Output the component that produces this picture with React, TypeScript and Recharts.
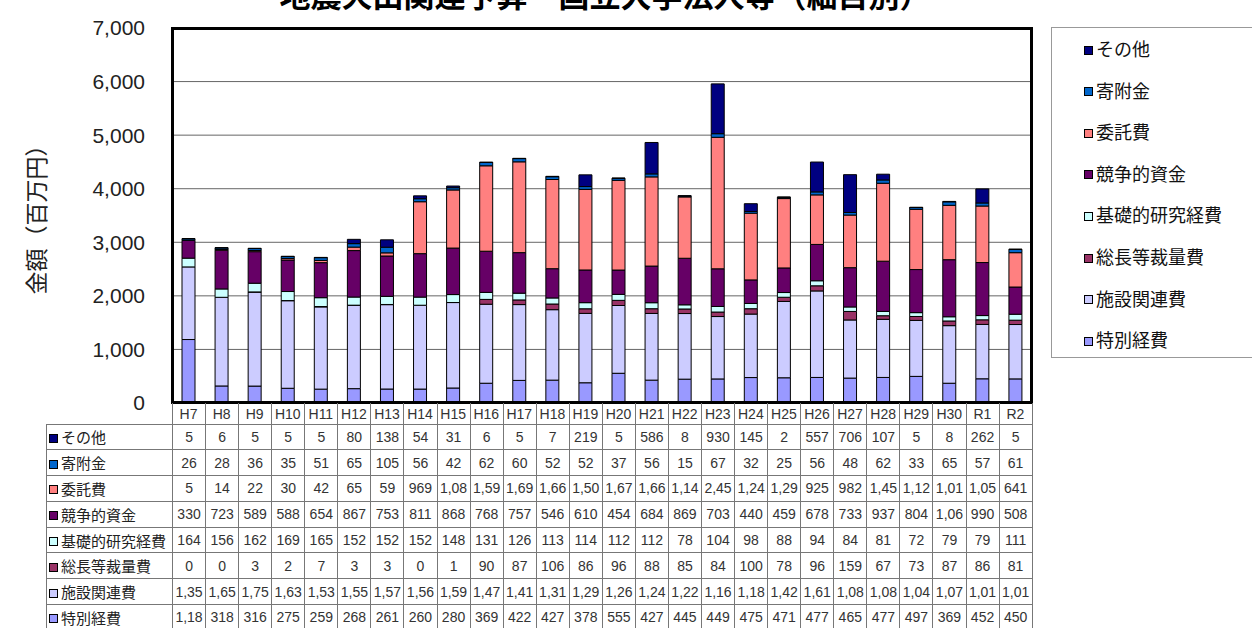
import React from 'react';
import { BarChart, Bar, XAxis, YAxis, CartesianGrid } from 'recharts';

// 年度
const years = ['H7', 'H8', 'H9', 'H10', 'H11', 'H12', 'H13', 'H14', 'H15', 'H16', 'H17', 'H18', 'H19', 'H20', 'H21', 'H22', 'H23', 'H24', 'H25', 'H26', 'H27', 'H28', 'H29', 'H30', 'R1', 'R2'];

// 細目別 (百万円)
const tokubetsu = [1185, 318, 316, 275, 259, 268, 261, 260, 280, 369, 422, 427, 378, 555, 427, 445, 449, 475, 471, 477, 465, 477, 497, 369, 452, 450];
const shisetsu = [1355, 1655, 1755, 1635, 1535, 1555, 1575, 1565, 1595, 1475, 1415, 1315, 1295, 1265, 1245, 1225, 1165, 1185, 1425, 1615, 1085, 1085, 1045, 1075, 1015, 1015];
const sochou = [0, 0, 3, 2, 7, 3, 3, 0, 1, 90, 87, 106, 86, 96, 88, 85, 84, 100, 78, 96, 159, 67, 73, 87, 86, 81];
const kiso = [164, 156, 162, 169, 165, 152, 152, 152, 148, 131, 126, 113, 114, 112, 112, 78, 104, 98, 88, 94, 84, 81, 72, 79, 79, 111];
const kyousou = [330, 723, 589, 588, 654, 867, 753, 811, 868, 768, 757, 546, 610, 454, 684, 869, 703, 440, 459, 678, 733, 937, 804, 1065, 990, 508];
const itaku = [5, 14, 22, 30, 42, 65, 59, 969, 1085, 1595, 1695, 1665, 1505, 1675, 1665, 1145, 2455, 1245, 1295, 925, 982, 1455, 1125, 1015, 1055, 641];
const kifu = [26, 28, 36, 35, 51, 65, 105, 56, 42, 62, 60, 52, 52, 37, 56, 15, 67, 32, 25, 56, 48, 62, 33, 65, 57, 61];
const sonota = [5, 6, 5, 5, 5, 80, 138, 54, 31, 6, 5, 7, 219, 5, 586, 8, 930, 145, 2, 557, 706, 107, 5, 8, 262, 5];

const yTicks = [0, 1000, 2000, 3000, 4000, 5000, 6000, 7000];

// bottom of stack first
const series = [
    { key: 'tokubetsu', name: '特別経費', color: '#9999FF', values: tokubetsu },
    { key: 'shisetsu', name: '施設関連費', color: '#CCCCFF', values: shisetsu },
    { key: 'sochou', name: '総長等裁量費', color: '#993366', values: sochou },
    { key: 'kiso', name: '基礎的研究経費', color: '#CCFFFF', values: kiso },
    { key: 'kyousou', name: '競争的資金', color: '#660066', values: kyousou },
    { key: 'itaku', name: '委託費', color: '#FF8080', values: itaku },
    { key: 'kifu', name: '寄附金', color: '#0066CC', values: kifu },
    { key: 'sonota', name: 'その他', color: '#000080', values: sonota },
];

const data = years.map((year, i) => {
    const row: Record<string, string | number> = { year };
    series.forEach((s) => { row[s.key] = s.values[i]; });
    return row;
});

// Excel の列幅で切れた表示を再現
const cellText = (v: number) => (v >= 1000 ? v.toLocaleString('en-US').slice(0, 4) : String(v));

const PLOT_LEFT = 172;
const PLOT_TOP = 28;
const PLOT_W = 860;
const PLOT_H = 375;
const COL_W = PLOT_W / years.length;
const FONT = '"Liberation Sans", Arial, "Noto Sans CJK JP", sans-serif';
const JP = '"Noto Sans CJK JP", "Liberation Sans", sans-serif';

const YearTick = (props: any) => {
    const { x, y, payload } = props;
    return (
        <text x={x} y={y + 11} textAnchor="middle" dominantBaseline="central" fontSize={14} fill="#333" fontFamily={FONT}>
            {payload.value}
        </text>
    );
};

const Marker = ({ color }: { color: string }) => (
    <span style={{ display: 'inline-block', width: 7, height: 7, background: color, border: '1px solid #000', marginRight: 3, verticalAlign: 'middle', position: 'relative', top: -1 }} />
);

export default function App() {
    const tableRows = [...series].reverse();
    return (
        <div style={{ position: 'absolute', left: 0, top: 0, width: 1252, height: 628, overflow: 'hidden', background: '#fff', fontFamily: FONT }}>
            <div style={{ position: 'absolute', left: 0, width: 1210, top: -22, textAlign: 'center', fontFamily: JP, fontWeight: 700, fontSize: 31, lineHeight: '31px', color: '#000' }}>
                地震火山関連予算　国立大学法人等（細目別）
            </div>

            <div style={{ position: 'absolute', left: 35, top: 214, transform: 'translate(-50%, -50%) rotate(-90deg)', whiteSpace: 'nowrap', fontFamily: JP, fontSize: 23, color: '#222' }}>
                金額（百万円）
            </div>

            <div style={{ position: 'absolute', left: 0, top: 0 }}>
                <BarChart width={1252} height={628} data={data} margin={{ top: PLOT_TOP, right: 1252 - PLOT_LEFT - PLOT_W, bottom: 628 - PLOT_TOP - PLOT_H - 22, left: 0 }} barSize={13}>
                    <CartesianGrid vertical={false} stroke="#666" strokeWidth={1} />
                    <XAxis dataKey="year" interval={0} height={22} tickLine={false} axisLine={false} tickSize={0} tickMargin={0} tick={<YearTick />} />
                    <YAxis
                        width={PLOT_LEFT}
                        domain={[0, 7000]}
                        ticks={yTicks}
                        tickLine={false}
                        axisLine={false}
                        tickMargin={21}
                        tick={{ fontSize: 21, fill: '#222', fontFamily: FONT }}
                        tickFormatter={(v: number) => v.toLocaleString('en-US')}
                    />
                    {series.map((s) => (
                        <Bar key={s.key} dataKey={s.key} name={s.name} stackId="a" fill={s.color} stroke="#000" strokeWidth={1} isAnimationActive={false} />
                    ))}
                </BarChart>
            </div>

            <div style={{ position: 'absolute', left: PLOT_LEFT - 1, top: PLOT_TOP - 1, width: PLOT_W + 2, height: PLOT_H + 2, border: '3px solid #000', boxSizing: 'border-box', pointerEvents: 'none' }} />

            <table style={{ position: 'absolute', left: 46, top: PLOT_TOP + PLOT_H, borderCollapse: 'collapse', tableLayout: 'fixed', width: PLOT_LEFT - 46 + PLOT_W, fontSize: 14, color: '#333' }}>
                <colgroup>
                    <col style={{ width: PLOT_LEFT - 46 }} />
                    {years.map((y) => <col key={y} style={{ width: COL_W }} />)}
                </colgroup>
                <tbody>
                    <tr style={{ height: 21 }}>
                        <td style={{ padding: 0 }} />
                        {years.map((y) => <td key={y} style={{ borderLeft: '1px solid #777', borderRight: '1px solid #777', padding: 0 }} />)}
                    </tr>
                    {tableRows.map((s) => (
                        <tr key={s.key} style={{ height: 25.8 }}>
                            <td style={{ border: '1px solid #777', padding: '0 0 0 2px', whiteSpace: 'nowrap', fontFamily: JP, fontSize: 15, color: '#222' }}>
                                <Marker color={s.color} />{s.name}
                            </td>
                            {s.values.map((v, i) => (
                                <td key={i} style={{ border: '1px solid #777', padding: 0, textAlign: 'center', whiteSpace: 'nowrap', overflow: 'hidden' }}>{cellText(v)}</td>
                            ))}
                        </tr>
                    ))}
                </tbody>
            </table>

            <div style={{ position: 'absolute', left: 1051, top: 27, width: 220, height: 331, border: '1px solid #999', boxSizing: 'border-box' }}>
                {tableRows.map((s, i) => (
                    <div key={s.key} style={{ position: 'absolute', left: 32, top: 20 + i * 41.6 - 13, height: 26, lineHeight: '26px', whiteSpace: 'nowrap', fontFamily: JP, fontSize: 18, color: '#111' }}>
                        <Marker color={s.color} />{s.name}
                    </div>
                ))}
            </div>
        </div>
    );
}
